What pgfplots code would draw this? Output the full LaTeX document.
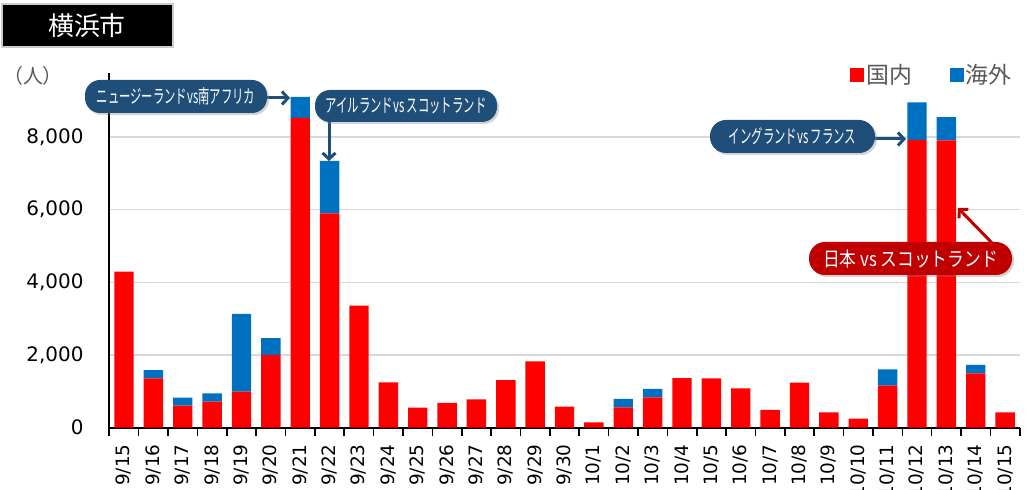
\documentclass[border=0pt]{standalone}
\usepackage{fontspec}
\setmainfont{DejaVu Sans}
\newfontfamily\jp{Noto Sans CJK JP}
\newfontfamily\jpc[FakeStretch=0.6]{Noto Sans CJK JP}
\newfontfamily\jpr[FakeStretch=0.84]{Noto Sans CJK JP}
\usepackage{pgfplots}
\pgfplotsset{compat=1.18}
\usetikzlibrary{shadows,arrows.meta}
\definecolor{dom}{HTML}{FF0000}
\definecolor{ovs}{HTML}{0070C0}
\definecolor{cblue}{HTML}{1F4E79}
\definecolor{cred}{HTML}{C00000}
\definecolor{txtgray}{HTML}{595959}
\definecolor{gridgray}{HTML}{D9D9D9}
\begin{document}
\begin{tikzpicture}
\path[use as bounding box] (0,0) rectangle (1035bp,490bp);
\begin{axis}[
  at={(109.3bp,62.3bp)}, anchor=south west,
  scale only axis, width=910.5bp, height=354.7bp,
  ybar stacked, bar width=0.66,
  xmin=-0.5, xmax=30.5, ymin=0, ymax=9757,
  axis x line*=bottom, axis y line*=left,
  axis line style={line width=1.6bp, black, -},
  xtick={0,...,30},
  xticklabels={9/15,9/16,9/17,9/18,9/19,9/20,9/21,9/22,9/23,9/24,9/25,9/26,9/27,9/28,9/29,9/30,10/1,10/2,10/3,10/4,10/5,10/6,10/7,10/8,10/9,10/10,10/11,10/12,10/13,10/14,10/15},
  major x tick style={draw=none},
  minor xtick={-0.5,0.5,...,30.5},
  minor tick length=8bp,
  minor x tick style={line width=1.6bp, black},
  tick align=outside,
  xticklabel style={rotate=90, anchor=east, font=\fontsize{18.5}{20}\selectfont, text=black, xshift=-9bp},
  ytick={0,2000,4000,6000,8000},
  major y tick style={draw=none},
  yticklabel style={font=\fontsize{20}{22}\selectfont, text=black, xshift=-18bp},
  /pgf/number format/assume math mode=true,
  /pgf/number format/1000 sep={,},
  scaled y ticks=false,
  ymajorgrids, grid style={gridgray, line width=1.4bp},
  legend columns=2,
  legend style={at={(0.9936,0.9944)}, anchor=east, draw=none, fill=none, inner sep=0pt,
    font=\jp\fontsize{23}{25}\selectfont, text=txtgray,
    /tikz/every even column/.append style={column sep=36bp},
    nodes={inner sep=2bp}},
  legend image code/.code={\fill[#1] (0bp,-7bp) rectangle (14bp,7bp);},
]
\addplot[fill=dom, draw=none] coordinates {
(0,4290) (1,1359) (2,605) (3,715) (4,990) (5,2000) (6,8520) (7,5898) (8,3356) (9,1249)
(10,550) (11,680) (12,781) (13,1312) (14,1826) (15,578) (16,149) (17,561) (18,836) (19,1367)
(20,1359) (21,1084) (22,487) (23,1238) (24,424) (25,248) (26,1155) (27,7915) (28,7906) (29,1497) (30,424)};
\addlegendentry{国内}
\addplot[fill=ovs, draw=none] coordinates {
(0,0) (1,228) (2,220) (3,231) (4,2138) (5,467) (6,578) (7,1439) (8,0) (9,0)
(10,0) (11,0) (12,0) (13,0) (14,0) (15,0) (16,0) (17,229) (18,229) (19,0)
(20,0) (21,0) (22,0) (23,0) (24,0) (25,0) (26,451) (27,1037) (28,634) (29,228) (30,0)};
\addlegendentry{海外}
\end{axis}
% title box
\fill[gray!40] (1bp,442bp) rectangle (174bp,487bp);
\fill[black] (3bp,444bp) rectangle (172bp,485bp);
\node[text=white, font=\jp\fontsize{26}{28}\selectfont] at (87bp,464bp) {横浜市};
% unit
\node[text=txtgray, font=\jp\fontsize{20}{22}\selectfont] at (33bp,414bp) {（人）};
% callout 1
\draw[-{Straight Barb[length=6bp,width=13bp]}, line width=3bp, cblue] (262bp,392bp) -- (290bp,392bp);
\fill[cblue, rounded corners=15bp, drop shadow={opacity=0.35, shadow xshift=2bp, shadow yshift=-2bp}] (85bp,377bp) rectangle (267bp,410bp);
\node[text=white, font=\jpc\fontsize{19}{20}\selectfont] at (176bp,393.5bp) {ニュージーランドvs南アフリカ};
% callout 2
\draw[-{Straight Barb[length=6bp,width=13bp]}, line width=3bp, cblue] (329bp,372bp) -- (329bp,329bp);
\fill[cblue, rounded corners=15bp, drop shadow={opacity=0.35, shadow xshift=2bp, shadow yshift=-2bp}] (315bp,368bp) rectangle (497bp,400bp);
\node[text=white, font=\jpc\fontsize{19}{20}\selectfont] at (406bp,384bp) {アイルランドvs スコットランド};
% callout 3
\draw[-{Straight Barb[length=6bp,width=13bp]}, line width=3bp, cblue] (870bp,351bp) -- (906bp,351bp);
\fill[cblue, rounded corners=16bp, drop shadow={opacity=0.35, shadow xshift=2bp, shadow yshift=-2bp}] (710bp,337bp) rectangle (875bp,370bp);
\node[text=white, font=\jpc\fontsize{19}{20}\selectfont] at (792.5bp,353.5bp) {イングランドvs フランス};
% callout 4
\draw[-{Straight Barb[length=6bp,width=13bp]}, line width=3bp, cred] (993bp,246bp) -- (958bp,282bp);
\fill[cred, rounded corners=16bp, drop shadow={opacity=0.35, shadow xshift=2bp, shadow yshift=-2bp}] (809bp,215bp) rectangle (1012bp,248bp);
\node[text=white, font=\jpr\fontsize{20}{22}\selectfont] at (910.5bp,231.5bp) {日本 vs スコットランド};
\end{tikzpicture}
\end{document}
